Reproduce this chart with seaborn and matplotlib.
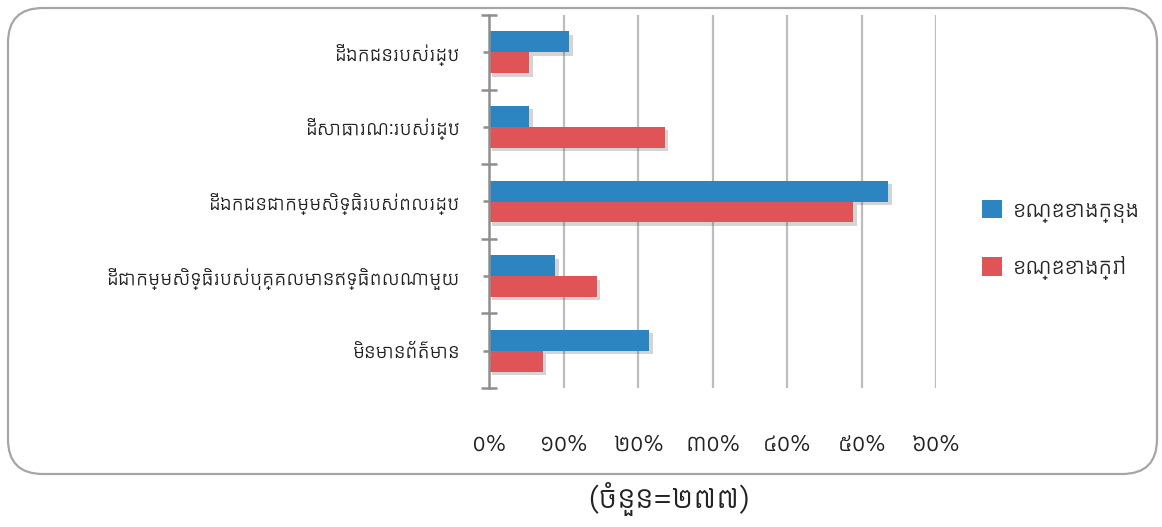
import numpy as np
import pandas as pd
import seaborn as sns
import matplotlib
matplotlib.use("Agg")
import matplotlib.pyplot as plt
from matplotlib import font_manager, patheffects
from matplotlib.patches import FancyBboxPatch

# Land categories (top to bottom) and share of respondents, in percent
categories = [
    "ដីឯកជនរបស់រដ្ឋ",
    "ដីសាធារណៈរបស់រដ្ឋ",
    "ដីឯកជនជាកម្មសិទ្ធិរបស់ពលរដ្ឋ",
    "ដីជាកម្មសិទ្ធិរបស់បុគ្គលមានឥទ្ធិពលណាមួយ",
    "មិនមានព័ត៌មាន",
]
series_names = ["ខណ្ឌខាងក្នុង", "ខណ្ឌខាងក្រៅ"]
inner_pct = [10.8, 5.4, 53.6, 8.9, 21.5]
outer_pct = [5.4, 23.6, 48.9, 14.5, 7.2]
tick_values = [0, 10, 20, 30, 40, 50, 60]
tick_labels = ["០%", "១០%", "២០%", "៣០%", "៤០%", "៥០%", "៦០%"]
caption = "(ចំនួន=២៧៧)"

colors = ["#2C85C0", "#E05458"]

sns.set_theme(style="white")
installed = {f.name for f in font_manager.fontManager.ttflist}
khmer_families = [n for n in ["Kantumruy Pro", "Noto Sans Khmer", "Hanuman"] if n in installed]
plt.rcParams["font.family"] = khmer_families[:1] + ["DejaVu Sans"]

df = pd.DataFrame({
    "category": categories * 2,
    "group": [series_names[0]] * 5 + [series_names[1]] * 5,
    "pct": inner_pct + outer_pct,
})

fig = plt.figure(figsize=(11.62, 5.27), dpi=100)
ax = fig.add_axes([489 / 1162, 1 - 388 / 527, (936 - 489) / 1162, (388 - 15) / 527])

sns.barplot(
    data=df, y="category", x="pct", hue="group", order=categories,
    hue_order=series_names, palette=colors, orient="h", width=0.56,
    saturation=1, ax=ax, legend=True,
)

# soft drop shadow under each bar
shadow = [patheffects.SimplePatchShadow(offset=(2.5, -2.5), shadow_rgbFace="#666666", alpha=0.28),
          patheffects.Normal()]
for p in ax.patches:
    p.set_linewidth(0)
    p.set_path_effects(shadow)

ax.set_xlim(0, 60)
ax.set_ylim(4.5, -0.5)
ax.set_xlabel("")
ax.set_ylabel("")

# vertical gridlines
ax.set_xticks(tick_values)
ax.set_xticklabels(tick_labels, fontsize=17, color="#222222")
ax.tick_params(axis="x", length=0, pad=33)
for v in tick_values[1:]:
    ax.axvline(v, color="#BDBDC0", lw=1.6, zorder=0)

# y axis: short ticks at labels, long crossing ticks at category boundaries
ax.set_yticks(range(len(categories)))
ax.set_yticklabels(categories, fontsize=14, color="#222222")
ax.set_yticks(np.arange(-0.5, len(categories), 1.0), minor=True)
ax.tick_params(axis="y", which="major", direction="out", length=4, width=1.8,
               color="#8E8E8E", pad=17, left=True)
ax.tick_params(axis="y", which="minor", direction="inout", length=12, width=1.8,
               color="#8E8E8E", left=True)
for s in ["top", "right", "bottom"]:
    ax.spines[s].set_visible(False)
ax.spines["left"].set_color("#8E8E8E")
ax.spines["left"].set_linewidth(1.8)

leg = ax.legend(
    loc="center left", bbox_to_anchor=(962 / 1162, 1 - 240 / 527),
    bbox_transform=fig.transFigure, frameon=False, fontsize=16,
    handlelength=0.9, handleheight=0.9, handletextpad=0.5, labelspacing=1.5,
)
for h in leg.legend_handles:
    h.set_path_effects([])

# rounded frame around the chart
frame = FancyBboxPatch(
    (8 / 1162, 1 - 474 / 527), (1157 - 8) / 1162, (474 - 8) / 527,
    boxstyle="round,pad=0,rounding_size=0.03", transform=fig.transFigure,
    facecolor="none", edgecolor="#A6A6A6", lw=1.6, mutation_aspect=1162 / 527,
)
fig.patches.append(frame)

fig.text(669 / 1162, 1 - 499 / 527, caption, ha="center", va="center",
         fontsize=22, color="#222222")

fig.savefig("out.png", dpi=100)
